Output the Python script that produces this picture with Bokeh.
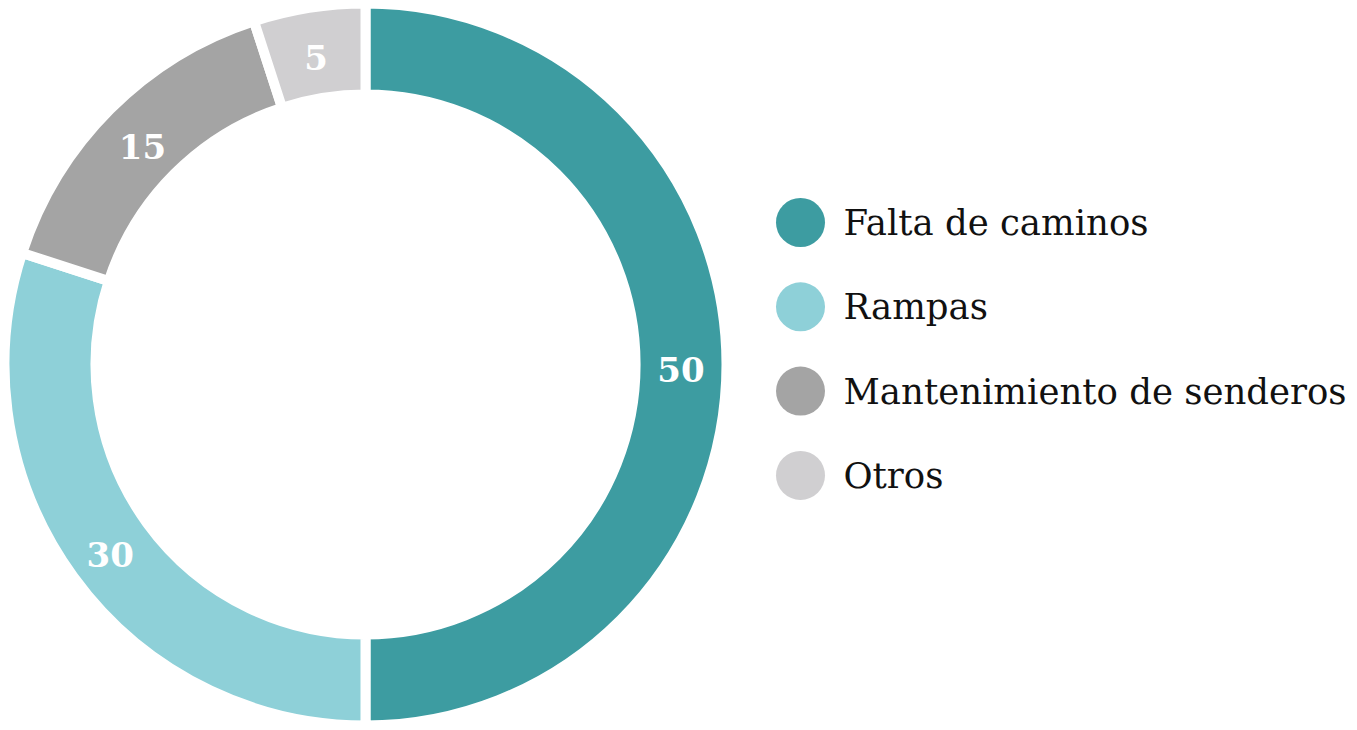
import numpy as np
from bokeh.plotting import figure
from bokeh.models import ColumnDataSource, Range1d
from bokeh.core.properties import value
from bokeh.embed import file_html
from bokeh.resources import INLINE

categories = ["Falta de caminos", "Rampas", "Mantenimiento de senderos", "Otros"]
values = [50, 30, 15, 5]
colors = ["#3d9ca1", "#8ed0d8", "#a4a4a4", "#d0cfd1"]

W, H = 1349, 722
p = figure(width=W, height=H, output_backend="svg", toolbar_location=None,
           x_range=Range1d(0, W), y_range=Range1d(0, H), min_border=0)
p.axis.visible = False
p.grid.visible = False
p.outline_line_color = None
p.background_fill_color = "white"

cx, cy = 365, H - 364
r_out, r_in = 356, 275
gap = 10

vals = np.array(values, dtype=float)
frac = vals / vals.sum()
cum = np.concatenate([[0], np.cumsum(frac)])
start = np.pi / 2 - cum[:-1] * 2 * np.pi
end = np.pi / 2 - cum[1:] * 2 * np.pi
mid = (start + end) / 2
r_mid = (r_out + r_in) / 2

src = ColumnDataSource(dict(x=[cx] * len(values), y=[cy] * len(values),
                            start=start, end=end, color=colors, cat=categories,
                            lx=cx + r_mid * np.cos(mid), ly=cy + r_mid * np.sin(mid) - 5,
                            lab=[str(v) for v in values]))

p.annular_wedge(x="x", y="y", inner_radius=r_in - gap / 2, outer_radius=r_out + gap / 2,
                start_angle="end", end_angle="start", direction="anticlock",
                fill_color="color", line_color="white", line_width=gap, source=src)

p.text(x="lx", y="ly", text="lab", source=src, text_color="white",
       text_font=value("DejaVu Serif"), text_font_style="bold", text_font_size="34px",
       text_align="center", text_baseline="middle")

# legend
idx = np.arange(len(categories))
leg = ColumnDataSource(dict(x=[800] * len(categories), tx=[843] * len(categories),
                            y=(H - 222) - idx * 84.3, cat=categories, color=colors))
p.scatter(x="x", y="y", size=49, marker="circle", fill_color="color", line_color=None, source=leg)
p.text(x="tx", y="y", text="cat", source=leg, text_color="#111111",
       text_font=value("DejaVu Serif"), text_font_size="35.5px",
       text_align="left", text_baseline="middle")

open("out.html", "w").write(file_html(p, INLINE))
